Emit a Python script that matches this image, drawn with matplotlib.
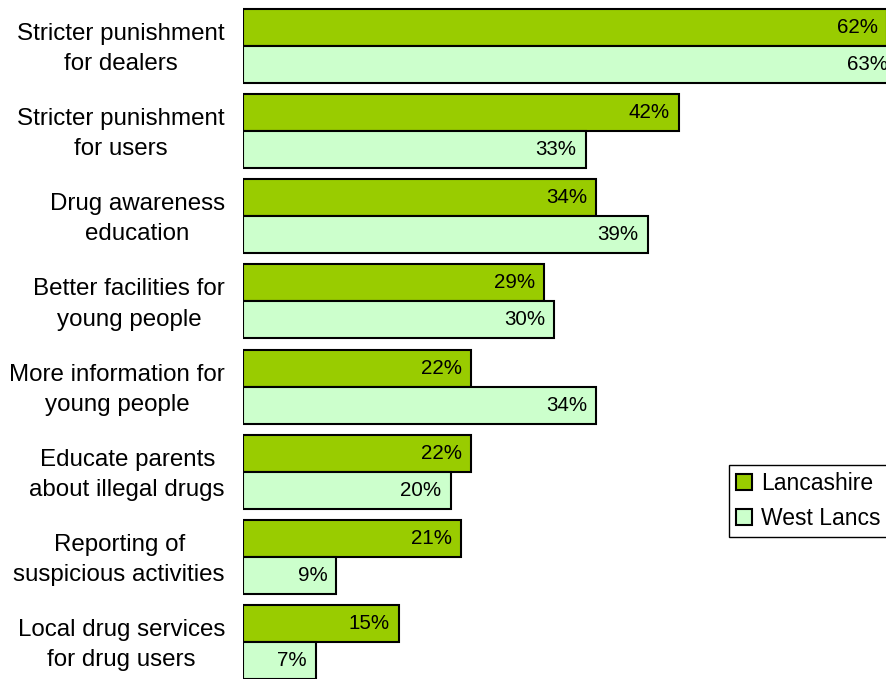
import matplotlib
matplotlib.use("Agg")
import matplotlib.pyplot as plt
from matplotlib.patches import Patch
from matplotlib.transforms import offset_copy
import numpy as np

categories = [
    "Stricter punishment\nfor dealers",
    "Stricter punishment\nfor users",
    "Drug awareness\neducation",
    "Better facilities for\nyoung people",
    "More information for\nyoung people",
    "Educate parents\nabout illegal drugs",
    "Reporting of\nsuspicious activities",
    "Local drug services\nfor drug users",
]
lancashire = [62, 42, 34, 29, 22, 22, 21, 15]
west_lancs = [63, 33, 39, 30, 34, 20, 9, 7]
series_names = ["Lancashire", "West Lancs"]

col_lanc = "#99CC00"
col_west = "#CCFFCC"

plt.rcParams['font.family'] = ['Liberation Sans', 'DejaVu Sans']

W, H = 887, 679
fig = plt.figure(figsize=(W / 100, H / 100), dpi=100)

px_per_pct = 10.38
xmax = 70
left_px = 243
top_px = 3.4
bottom_px = 684.6
ax = fig.add_axes([left_px / W, 1 - bottom_px / H,
                   xmax * px_per_pct / W, (bottom_px - top_px) / H])

y = np.arange(len(categories))
h = 0.435
ax.barh(y - h / 2, lancashire, height=h, color=col_lanc,
        edgecolor="black", linewidth=1.5, label=series_names[0])
ax.barh(y + h / 2, west_lancs, height=h, color=col_west,
        edgecolor="black", linewidth=1.5, label=series_names[1])

for yy, v in zip(y - h / 2, lancashire):
    ax.annotate(f"{v}%", (v, yy), xytext=(-6.5, 0), textcoords="offset points",
                ha="right", va="center", fontsize=14.8, color="black")
for yy, v in zip(y + h / 2, west_lancs):
    ax.annotate(f"{v}%", (v, yy), xytext=(-6.5, 0), textcoords="offset points",
                ha="right", va="center", fontsize=14.8, color="black")

ax.set_xlim(0, xmax)
ax.set_ylim(len(categories) - 0.5, -0.5)
ax.set_yticks([])
ax.set_xticks([])
for s in ["top", "right", "bottom", "left"]:
    ax.spines[s].set_visible(False)

lab_tr = offset_copy(ax.get_yaxis_transform(), fig=fig, x=-13, y=-2.2,
                     units="points")
for yy, cat in zip(y, categories):
    ax.text(0, yy, cat, transform=lab_tr, ha="right", va="center",
            multialignment="center", linespacing=1.48, fontsize=17.4,
            clip_on=False)

handles = [Patch(facecolor=col_lanc, edgecolor="black", linewidth=1.5),
           Patch(facecolor=col_west, edgecolor="black", linewidth=1.5)]
leg = fig.legend(handles, series_names, loc="upper left",
                 bbox_to_anchor=(729 / W, 1 - 465 / H), borderaxespad=0,
                 fontsize=16.5, frameon=True, fancybox=False, framealpha=1,
                 edgecolor="black", borderpad=0.3, handlelength=0.7,
                 handleheight=0.7, handletextpad=0.4, labelspacing=0.55)
leg.get_frame().set_linewidth(1.0)

fig.savefig("out.png", dpi=100)
